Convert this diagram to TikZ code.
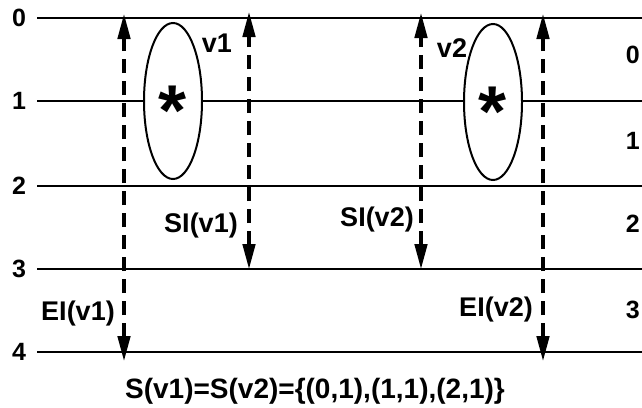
\documentclass[tikz,border=0pt]{standalone}
\usepackage{fontspec}
\setmainfont{Liberation Sans}
\usetikzlibrary{arrows.meta,shapes.geometric}

\begin{document}
\begin{tikzpicture}[
  x=1pt, y=-1pt,
  >={Triangle[length=26pt, width=12pt]},
  lvl/.style={font=\fontsize{25}{25}\selectfont\bfseries, inner sep=1pt},
  tag/.style={font=\fontsize{27}{27}\selectfont\bfseries, inner sep=0pt, anchor=base},
  level/.style={line width=2.5pt},
  span/.style={<->, line width=4.5pt, dash pattern=on 14pt off 8pt},
  blob/.style={draw, ellipse, line width=2pt, fill=white,
               minimum width=58pt, minimum height=156pt, inner sep=0pt},
  ast/.style={font=\fontsize{72}{72}\selectfont\bfseries, inner sep=0pt, anchor=base},
]
\useasboundingbox (0,0) rectangle (642,407);
\clip (0,0) rectangle (642,407);

% levels
\foreach \i/\y in {0/18,1/101,2/186,3/269,4/352} {
  \node[lvl] (L\i) at (19,\y) {\i};
  \coordinate (A\i) at (37,\y);
  \coordinate (B\i) at (646,\y);
  \draw[level] (A\i) -- (B\i);
}
\foreach \i/\y in {0/55,1/141,2/224,3/310}
  \node[lvl, anchor=east] (R\i) at (641,\y) {\i};

% index spans
\coordinate (p1t) at (124,13);  \coordinate (p1b) at (124,362);
\coordinate (p2t) at (249,11);  \coordinate (p2b) at (249,270);
\coordinate (p3t) at (421,12);  \coordinate (p3b) at (421,270);
\coordinate (p4t) at (543,13);  \coordinate (p4b) at (543,362);
\draw[span] (p1b) -- (p1t);
\draw[span] (p2b) -- (p2t);
\draw[span] (p3b) -- (p3t);
\draw[span] (p4b) -- (p4t);

% vertices
\node[blob] (v1) at (173,101) {};
\node[blob] (v2) at (493,102) {};
\node[ast] (s1) at ([yshift=-34pt]v1.center) {*};
\node[ast] (s2) at ([yshift=-34pt]v2.center) {*};

% labels
\node[tag] (n1) at (217,52) {v1};
\node[tag] (n2) at (452,57) {v2};
\node[tag] (si1) at (201,232) {SI(v1)};
\node[tag] (si2) at (377,226) {SI(v2)};
\node[tag] (ei1) at (78,320) {EI(v1)};
\node[tag] (ei2) at (496,316) {EI(v2)};
\node[tag, font=\fontsize{28}{28}\selectfont\bfseries] (set) at (315,398)
  {S(v1)=S(v2)=\{(0,1),(1,1),(2,1)\}};
\end{tikzpicture}
\end{document}
